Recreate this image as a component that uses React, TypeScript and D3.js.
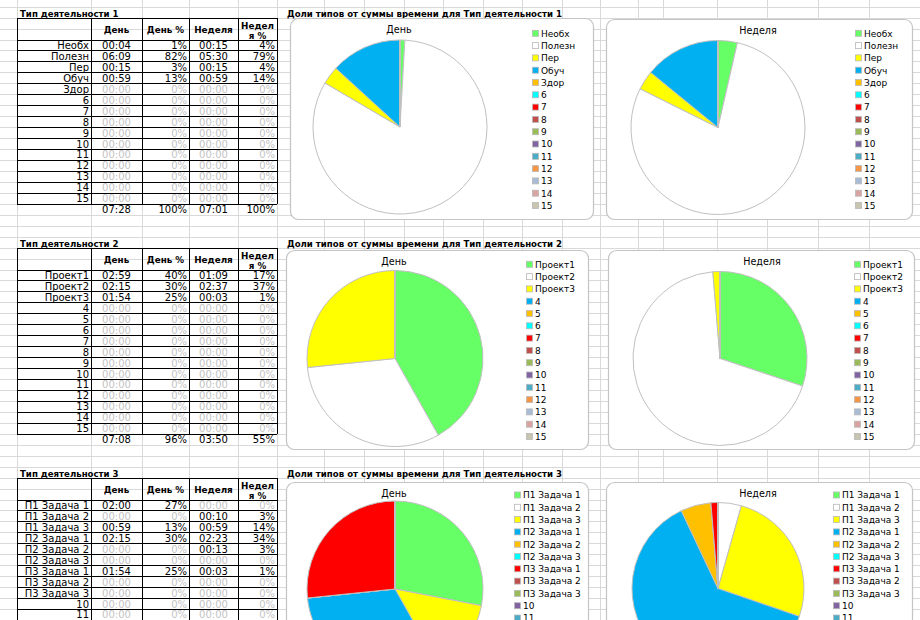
import React from "react";
import * as d3 from "d3";

// ---------- DATA ----------
const labels1 = ["Необх", "Полезн", "Пер", "Обуч", "Здор", "6", "7", "8", "9", "10", "11", "12", "13", "14", "15"];
const day1 = ["00:04", "06:09", "00:15", "00:59", "00:00", "00:00", "00:00", "00:00", "00:00", "00:00", "00:00", "00:00", "00:00", "00:00", "00:00"];
const dayPct1 = ["1%", "82%", "3%", "13%", "0%", "0%", "0%", "0%", "0%", "0%", "0%", "0%", "0%", "0%", "0%"];
const week1 = ["00:15", "05:30", "00:15", "00:59", "00:00", "00:00", "00:00", "00:00", "00:00", "00:00", "00:00", "00:00", "00:00", "00:00", "00:00"];
const weekPct1 = ["4%", "79%", "4%", "14%", "0%", "0%", "0%", "0%", "0%", "0%", "0%", "0%", "0%", "0%", "0%"];
const total1 = ["07:28", "100%", "07:01", "100%"];

const labels2 = ["Проект1", "Проект2", "Проект3", "4", "5", "6", "7", "8", "9", "10", "11", "12", "13", "14", "15"];
const day2 = ["02:59", "02:15", "01:54", "00:00", "00:00", "00:00", "00:00", "00:00", "00:00", "00:00", "00:00", "00:00", "00:00", "00:00", "00:00"];
const dayPct2 = ["40%", "30%", "25%", "0%", "0%", "0%", "0%", "0%", "0%", "0%", "0%", "0%", "0%", "0%", "0%"];
const week2 = ["01:09", "02:37", "00:03", "00:00", "00:00", "00:00", "00:00", "00:00", "00:00", "00:00", "00:00", "00:00", "00:00", "00:00", "00:00"];
const weekPct2 = ["17%", "37%", "1%", "0%", "0%", "0%", "0%", "0%", "0%", "0%", "0%", "0%", "0%", "0%", "0%"];
const total2 = ["07:08", "96%", "03:50", "55%"];

const labels3 = ["П1 Задача 1", "П1 Задача 2", "П1 Задача 3", "П2 Задача 1", "П2 Задача 2", "П2 Задача 3", "П3 Задача 1", "П3 Задача 2", "П3 Задача 3", "10", "11", "12", "13", "14", "15"];
const day3 = ["02:00", "00:00", "00:59", "02:15", "00:00", "00:00", "01:54", "00:00", "00:00", "00:00", "00:00", "00:00", "00:00", "00:00", "00:00"];
const dayPct3 = ["27%", "0%", "13%", "30%", "0%", "0%", "25%", "0%", "0%", "0%", "0%", "0%", "0%", "0%", "0%"];
const week3 = ["00:00", "00:10", "00:59", "02:23", "00:13", "00:00", "00:03", "00:00", "00:00", "00:00", "00:00", "00:00", "00:00", "00:00", "00:00"];
const weekPct3 = ["0%", "3%", "14%", "34%", "3%", "0%", "1%", "0%", "0%", "0%", "0%", "0%", "0%", "0%", "0%"];
const total3: string[] = [];

const tableTitles = ["Тип деятельности 1", "Тип деятельности 2", "Тип деятельности 3"];
const chartTitles = [
  "Доли типов от суммы времени для Тип деятельности 1",
  "Доли типов от суммы времени для Тип деятельности 2",
  "Доли типов от суммы времени для Тип деятельности 3",
];
const headers = ["День", "День %", "Неделя"];
const headerLast = ["Недел", "я %"];
const pieTitles = ["День", "Неделя"];

const sliceColors = [
  "#66FF66", "#FFFFFF", "#FFFF00", "#00B0F0", "#FFC000", "#00FFFF", "#FF0000",
  "#C0504D", "#9BBB59", "#8064A2", "#4BACC6", "#F79646", "#A9BCD5", "#D9A3A1", "#C7C4B0",
];

// ---------- LAYOUT ----------
const W = 920;
const H = 620;
const ROW = 230 / 21;
const rowY = (k: number) => 40 + k * ROW;
const colX = [17, 91, 142, 189, 238, 277];
const gridCols = [17, 91, 142, 189, 238, 277, 324, 364, 404, 443, 483, 522, 562, 600, 638, 663, 717, 767, 818, 869];
const TABLE_FONT = "'DejaVu Sans', Verdana, sans-serif";
const zeroGray = "#c3c3c3";

const tables = [
  { labels: labels1, cols: [day1, dayPct1, week1, weekPct1], total: total1 },
  { labels: labels2, cols: [day2, dayPct2, week2, weekPct2], total: total2 },
  { labels: labels3, cols: [day3, dayPct3, week3, weekPct3], total: total3 },
];

const charts = [
  { block: 0, kind: 0, box: [290, 18, 593, 219], cx: 400, cy: 127, r: 87, titleX: 399, legendX: 532, legendY: 33.3 },
  { block: 0, kind: 1, box: [606, 19, 912, 219], cx: 718, cy: 127.5, r: 87, titleX: 758, legendX: 855, legendY: 33.3 },
  { block: 1, kind: 0, box: [286, 250, 588, 449], cx: 395, cy: 358.5, r: 88, titleX: 394, legendX: 526, legendY: 264.3 },
  { block: 1, kind: 1, box: [608, 250, 914, 449], cx: 720, cy: 358.5, r: 87, titleX: 762, legendX: 854, legendY: 264.3 },
  { block: 2, kind: 0, box: [286, 482, 588, 690], cx: 395, cy: 589, r: 88, titleX: 394, legendX: 514, legendY: 495 },
  { block: 2, kind: 1, box: [606, 482, 912, 690], cx: 718, cy: 588.5, r: 86, titleX: 758, legendX: 833, legendY: 495 },
];

const toMin = (s: string) => {
  const [h, m] = s.split(":").map(Number);
  return h * 60 + m;
};
const isZero = (s: string) => s === "00:00" || s === "0%";

function Table({ b }: { b: number }) {
  const t = tables[b];
  const base = b * 21;
  const top = rowY(base - 2);
  const bottom = rowY(base + 15);
  const centers = [0, 1, 2, 3].map((i) => (colX[i + 1] + colX[i + 2]) / 2);
  return (
    <g fontFamily={TABLE_FONT}>
      <text x={20} y={rowY(base - 3) + 9.4} fontSize={8.6} fontWeight="bold">{tableTitles[b]}</text>
      {/* header text */}
      {headers.map((h, i) => (
        <text key={h} x={centers[i]} y={rowY(base) - 7.5} fontSize={8.8} fontWeight="bold" textAnchor="middle">{h}</text>
      ))}
      <text x={centers[3]} y={rowY(base) - 11.5} fontSize={8.8} fontWeight="bold" textAnchor="middle">{headerLast[0]}</text>
      <text x={centers[3]} y={rowY(base) - 1.5} fontSize={8.8} fontWeight="bold" textAnchor="middle">{headerLast[1]}</text>
      {/* rows */}
      {t.labels.map((lab, i) => {
        const y = rowY(base + i + 1) - 2;
        return (
          <g key={i} fontSize={10}>
            <text x={colX[1] - 2} y={y} textAnchor="end">{lab}</text>
            <text x={centers[0]} y={y} textAnchor="middle" fill={isZero(t.cols[0][i]) ? zeroGray : "#000"}>{t.cols[0][i]}</text>
            <text x={colX[3] - 2} y={y} textAnchor="end" fill={isZero(t.cols[1][i]) ? zeroGray : "#000"}>{t.cols[1][i]}</text>
            <text x={centers[2]} y={y} textAnchor="middle" fill={isZero(t.cols[2][i]) ? zeroGray : "#000"}>{t.cols[2][i]}</text>
            <text x={colX[5] - 2} y={y} textAnchor="end" fill={isZero(t.cols[3][i]) ? zeroGray : "#000"}>{t.cols[3][i]}</text>
          </g>
        );
      })}
      {t.total.length > 0 && (
        <g fontSize={10}>
          <text x={centers[0]} y={rowY(base + 16) - 2} textAnchor="middle">{t.total[0]}</text>
          <text x={colX[3] - 2} y={rowY(base + 16) - 2} textAnchor="end">{t.total[1]}</text>
          <text x={centers[2]} y={rowY(base + 16) - 2} textAnchor="middle">{t.total[2]}</text>
          <text x={colX[5] - 2} y={rowY(base + 16) - 2} textAnchor="end">{t.total[3]}</text>
        </g>
      )}
      {/* borders */}
      <g stroke="#000" strokeWidth={1} shapeRendering="crispEdges">
        {d3.range(0, 16).map((k) => (
          <line key={"h" + k} x1={colX[0]} x2={colX[5]} y1={rowY(base + k)} y2={rowY(base + k)} />
        ))}
        <line x1={colX[0]} x2={colX[5]} y1={top} y2={top} />
        {colX.map((x) => (
          <line key={"v" + x} x1={x} x2={x} y1={top} y2={bottom} />
        ))}
      </g>
    </g>
  );
}

function Chart({ c }: { c: (typeof charts)[number] }) {
  const t = tables[c.block];
  const vals = t.cols[c.kind === 0 ? 0 : 2].map(toMin);
  const data = t.labels.map((l, i) => ({ label: l, v: vals[i], color: sliceColors[i] }));
  const pie = d3.pie<{ label: string; v: number; color: string }>().sort(null).value((d) => d.v);
  const arc = d3.arc<d3.PieArcDatum<{ label: string; v: number; color: string }>>().innerRadius(0).outerRadius(c.r);
  const arcs = pie(data);
  const [x0, y0, x1, y1] = c.box;
  const legendStep = 12.3;
  return (
    <g>
      <rect x={x0 + 0.5} y={y0 + 0.5} width={x1 - x0} height={y1 - y0} rx={8} ry={8} fill="#fff" stroke="#c4c4c4" strokeWidth={1.2} />
      <text x={c.titleX} y={y0 + 15} fontSize={9.6} textAnchor="middle" fontFamily="'DejaVu Sans', sans-serif">{pieTitles[c.kind]}</text>
      <g transform={`translate(${c.cx},${c.cy})`}>
        {arcs.map((a, i) => (
          <path key={i} d={arc(a) || ""} fill={a.data.color} stroke="#c0c0c0" strokeWidth={1} strokeLinejoin="round" />
        ))}
      </g>
      <g fontFamily="'DejaVu Sans', sans-serif" fontSize={9}>
        {data.map((d, i) => {
          const y = c.legendY + i * legendStep;
          return (
            <g key={i}>
              <rect x={c.legendX + 0.5} y={y - 3} width={6} height={6} fill={d.color} stroke="#b8b8b8" strokeWidth={0.8} />
              <text x={c.legendX + 9} y={y + 3.3}>{d.label}</text>
            </g>
          );
        })}
      </g>
    </g>
  );
}

export default function App() {
  const hRows = d3.range(-4, 56).map(rowY);
  return (
    <div style={{ position: "absolute", left: 0, top: 0 }}>
      <svg width={W} height={H} style={{ display: "block", background: "#fff" }}>
        <rect x={0} y={0} width={W} height={H} fill="#fff" />
        <g stroke="#d9d9d9" strokeWidth={1} shapeRendering="crispEdges">
          {hRows.map((y, i) => (
            <line key={"r" + i} x1={0} x2={W} y1={y} y2={y} />
          ))}
          {gridCols.map((x) => (
            <line key={"c" + x} x1={x} x2={x} y1={0} y2={H} />
          ))}
        </g>
        {[0, 1, 2].map((b) => (
          <Table key={b} b={b} />
        ))}
        {[0, 1, 2].map((b) => (
          <text key={"ct" + b} x={287} y={rowY(b * 21 - 3) + 9.4} fontSize={8.6} fontWeight="bold" fontFamily={TABLE_FONT}>
            {chartTitles[b]}
          </text>
        ))}
        {charts.map((c, i) => (
          <Chart key={i} c={c} />
        ))}
      </svg>
    </div>
  );
}
